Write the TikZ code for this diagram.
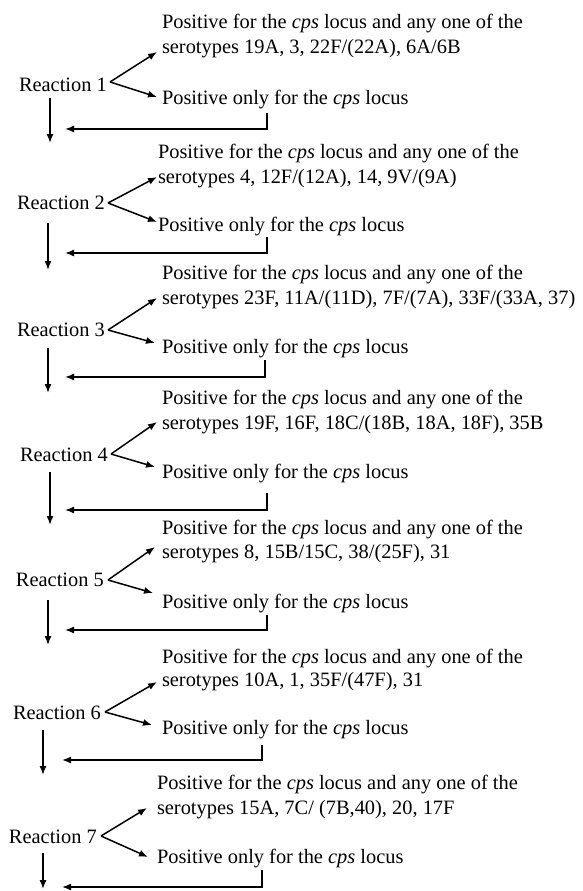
\documentclass[tikz,border=0pt]{standalone}
\usepackage{fontspec}
\setmainfont{Liberation Serif}
\usetikzlibrary{arrows.meta}
\tikzset{
  txt/.style={anchor=base west,inner sep=0pt,outer sep=0pt,font=\fontsize{20.4}{24}\selectfont},
  conn/.style={line width=1.5pt,-{Latex[length=9pt,width=7pt]}},
}
\newcommand{\cps}{\textit{cps}}
\begin{document}
\begin{tikzpicture}[x=1pt,y=-1pt]
\useasboundingbox (0,0) rectangle (583,891);
% ---- Section 1
\node[txt] (a1) at (162,29) {Positive for the \cps{} locus and any one of the};
\node[txt] (b1) at (162,54) {serotypes 19A, 3, 22F/(22A), 6A/6B};
\node[txt] (r1) at (19,91) {Reaction 1};
\node[txt] (p1) at (162,104) {Positive only for the \cps{} locus};
\coordinate (t1) at (110,82); \coordinate (u1) at (157,52); \coordinate (d1) at (157,97);
\coordinate (s1) at (50,98); \coordinate (e1) at (50,143);
\coordinate (k1) at (267,113); \coordinate (h1) at (267,129); \coordinate (g1) at (65,129);
\draw[conn] (t1) -- (u1); \draw[conn] (t1) -- (d1);
\draw[conn] (s1) -- (e1);
\draw[conn] (k1) -- (h1) -- (g1);
% ---- Section 2
\node[txt] (a2) at (158,158) {Positive for the \cps{} locus and any one of the};
\node[txt] (b2) at (158,183) {serotypes 4, 12F/(12A), 14, 9V/(9A)};
\node[txt] (r2) at (17,209) {Reaction 2};
\node[txt] (p2) at (158,231) {Positive only for the \cps{} locus};
\coordinate (t2) at (108,203); \coordinate (u2) at (157,177); \coordinate (d2) at (157,222);
\coordinate (s2) at (48,223); \coordinate (e2) at (48,270);
\coordinate (k2) at (267,237); \coordinate (h2) at (267,253); \coordinate (g2) at (65,253);
\draw[conn] (t2) -- (u2); \draw[conn] (t2) -- (d2);
\draw[conn] (s2) -- (e2);
\draw[conn] (k2) -- (h2) -- (g2);
% ---- Section 3
\node[txt] (a3) at (162,279) {Positive for the \cps{} locus and any one of the};
\node[txt] (b3) at (162,304) {serotypes 23F, 11A/(11D), 7F/(7A), 33F/(33A, 37)};
\node[txt] (r3) at (17,336) {Reaction 3};
\node[txt] (p3) at (162,353) {Positive only for the \cps{} locus};
\coordinate (t3) at (108,330); \coordinate (u3) at (157,298); \coordinate (d3) at (155,343);
\coordinate (s3) at (48,348); \coordinate (e3) at (48,393);
\coordinate (k3) at (265,360); \coordinate (h3) at (265,377); \coordinate (g3) at (65,377);
\draw[conn] (t3) -- (u3); \draw[conn] (t3) -- (d3);
\draw[conn] (s3) -- (e3);
\draw[conn] (k3) -- (h3) -- (g3);
% ---- Section 4
\node[txt] (a4) at (162,404) {Positive for the \cps{} locus and any one of the};
\node[txt] (b4) at (162,429) {serotypes 19F, 16F, 18C/(18B, 18A, 18F), 35B};
\node[txt] (r4) at (20,461) {Reaction 4};
\node[txt] (p4) at (162,478) {Positive only for the \cps{} locus};
\coordinate (t4) at (111,454); \coordinate (u4) at (157,422); \coordinate (d4) at (155,467);
\coordinate (s4) at (50,472); \coordinate (e4) at (50,525);
\coordinate (k4) at (267,493); \coordinate (h4) at (267,510); \coordinate (g4) at (65,510);
\draw[conn] (t4) -- (u4); \draw[conn] (t4) -- (d4);
\draw[conn] (s4) -- (e4);
\draw[conn] (k4) -- (h4) -- (g4);
% ---- Section 5
\node[txt] (a5) at (162,534) {Positive for the \cps{} locus and any one of the};
\node[txt] (b5) at (162,558) {serotypes 8, 15B/15C, 38/(25F), 31};
\node[txt] (r5) at (16,586) {Reaction 5};
\node[txt] (p5) at (162,608) {Positive only for the \cps{} locus};
\coordinate (t5) at (108,580); \coordinate (u5) at (155,547); \coordinate (d5) at (153,593);
\coordinate (s5) at (48,600); \coordinate (e5) at (48,645);
\coordinate (k5) at (267,615); \coordinate (h5) at (267,630); \coordinate (g5) at (65,630);
\draw[conn] (t5) -- (u5); \draw[conn] (t5) -- (d5);
\draw[conn] (s5) -- (e5);
\draw[conn] (k5) -- (h5) -- (g5);
% ---- Section 6
\node[txt] (a6) at (162,663) {Positive for the \cps{} locus and any one of the};
\node[txt] (b6) at (162,686) {serotypes 10A, 1, 35F/(47F), 31};
\node[txt] (r6) at (13,719) {Reaction 6};
\node[txt] (p6) at (162,734) {Positive only for the \cps{} locus};
\coordinate (t6) at (105,712); \coordinate (u6) at (157,682); \coordinate (d6) at (152,725);
\coordinate (s6) at (43,730); \coordinate (e6) at (43,775);
\coordinate (k6) at (262,745); \coordinate (h6) at (262,760); \coordinate (g6) at (62,760);
\draw[conn] (t6) -- (u6); \draw[conn] (t6) -- (d6);
\draw[conn] (s6) -- (e6);
\draw[conn] (k6) -- (h6) -- (g6);
% ---- Section 7
\node[txt] (a7) at (157,789) {Positive for the \cps{} locus and any one of the};
\node[txt] (b7) at (157,814) {serotypes 15A, 7C/ (7B,40), 20, 17F};
\node[txt] (r7) at (9,843) {Reaction 7};
\node[txt] (p7) at (157,863) {Positive only for the \cps{} locus};
\coordinate (t7) at (101,836); \coordinate (u7) at (147,808); \coordinate (d7) at (148,857);
\coordinate (s7) at (43,853); \coordinate (e7) at (43,889);
\coordinate (k7) at (262,870); \coordinate (h7) at (262,887); \coordinate (g7) at (62,887);
\draw[conn] (t7) -- (u7); \draw[conn] (t7) -- (d7);
\draw[conn] (s7) -- (e7);
\draw[conn] (k7) -- (h7) -- (g7);
\end{tikzpicture}
\end{document}
